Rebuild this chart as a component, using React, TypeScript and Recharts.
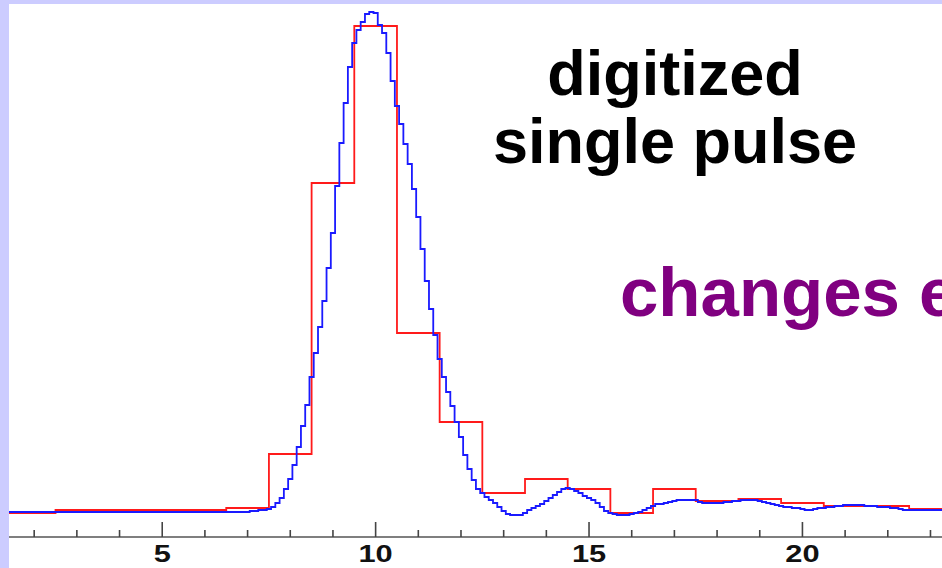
import React from 'react';
import { LineChart, Line, XAxis, YAxis } from 'recharts';

// Coarse (1-unit bins) red histogram: bin centers and heights
const RED_CENTERS = [1, 2, 3, 4, 5, 6, 7, 8, 9, 10, 11, 12, 13, 14, 15, 16, 17, 18, 19, 20, 21, 22, 23, 24];
const RED_VALUES = [24, 24, 27, 27, 27, 27, 29, 83, 354, 511, 204, 115, 44, 58, 48, 24, 48, 36, 38, 34, 31, 31, 28, 28];

// Fine (0.1-unit bins) blue histogram, first bin center and bin width
const BLUE_START = 1.3;
const BLUE_STEP = 0.1;
const BLUE_VALUES = [
  25, 25, 25, 25, 25, 25, 25, // 1.3-1.9
  25, 25, 25, 25, 25, 25, 25, 25, 25, 25, // 2.x
  25, 25, 25, 25, 25, 25, 25, 25, 25, 25, // 3.x
  25, 25, 25, 25, 25, 25, 25, 25, 25, 25, // 4.x
  25, 25, 25, 25, 25, 25, 25, 25, 25, 25, // 5.x
  25, 25, 25, 25, 25, 25, 25, 25, 25, 25, // 6.x
  25, 26, 26, 27, 27, 28, 30, 34, 39, 48, // 7.x
  58, 72, 90, 111, 132, 160, 184, 210, 236, 269, // 8.x
  304, 351, 394, 434, 470, 494, 507, 515, 523, 525, // 9.x
  524, 512, 504, 484, 456, 431, 413, 393, 373, 348, // 10.x
  320, 288, 256, 228, 202, 178, 160, 145, 131, 115, // 11.x
  100, 82, 68, 57, 48, 44, 40, 37, 34, 30, // 12.x
  26, 23, 22, 22, 22, 24, 27, 29, 31, 33, // 13.x
  36, 39, 42, 45, 48, 49, 48, 46, 44, 41, // 14.x
  39, 37, 34, 30, 26, 24, 23, 22, 22, 22, // 15.x
  23, 24, 25, 27, 29, 31, 33, 33, 34, 35, // 16.x
  36, 37, 37, 37, 37, 37, 35, 34, 34, 34, // 17.x
  34, 34, 35, 35, 36, 36, 37, 37, 37, 37, // 18.x
  36, 35, 34, 33, 32, 31, 30, 30, 29, 29, // 19.x
  28, 27, 27, 28, 29, 29, 30, 30, 31, 31, // 20.x
  32, 32, 32, 32, 32, 31, 31, 31, 30, 30, // 21.x
  30, 29, 29, 28, 27, 27, 27, 27, 27, 27, // 22.x
  27, 27, 27, 27, 27, // 23.0-23.4
];

const X_TICKS = [2, 3, 4, 5, 6, 7, 8, 9, 10, 11, 12, 13, 14, 15, 16, 17, 18, 19, 20, 21, 22, 23];
const X_LABELED = [5, 10, 15, 20];
const X_DOMAIN: [number, number] = [1.41, 23.27];
const Y_DOMAIN: [number, number] = [0, 533];

const TITLE_LINES = ['digitized', 'single pulse'];
const SIDE_TEXT = 'changes e';

const redData = RED_CENTERS.map((x, i) => ({ x, y: RED_VALUES[i] }));
const blueData = BLUE_VALUES.map((y, i) => ({ x: Math.round((BLUE_START + i * BLUE_STEP) * 10) / 10, y }));

const Tick = (props: any) => {
  const { x, y, payload } = props;
  const v = payload.value;
  const major = X_LABELED.includes(v);
  return (
    <g>
      <line x1={x} x2={x} y1={y} y2={y - (major ? 15 : 7)} stroke="#444" strokeWidth={1.6} />
      {major && (
        <text
          transform={`translate(${x},${y + 25}) scale(1.4,1.05)`}
          textAnchor="middle"
          fontFamily="'Liberation Sans', Arial, sans-serif"
          fontWeight="bold"
          fontSize={22}
          fill="#111"
        >
          {v}
        </text>
      )}
    </g>
  );
};

export default function App() {
  return (
    <div style={{ position: 'absolute', left: 0, top: 0, width: 942, height: 568, background: '#fff', overflow: 'hidden' }}>
      <div style={{ position: 'absolute', left: 0, top: 0, width: 9, height: 568, background: '#ccccff' }} />
      <div style={{ position: 'absolute', left: 0, top: 0, width: 942, height: 4, background: '#ccccff' }} />
      <div style={{ position: 'absolute', left: 9, top: 4 }}>
        <LineChart width={933} height={564} margin={{ top: 0, right: 0, bottom: 0, left: 0 }}>
          <XAxis
            type="number"
            dataKey="x"
            domain={X_DOMAIN}
            allowDataOverflow
            ticks={X_TICKS}
            interval={0}
            tick={<Tick />}
            tickLine={false}
            tickSize={0}
            tickMargin={0}
            height={31}
            axisLine={{ stroke: '#555', strokeWidth: 1.6 }}
          />
          <YAxis hide type="number" domain={Y_DOMAIN} allowDataOverflow />
          <Line data={redData} dataKey="y" type="step" stroke="#ff1a1a" strokeWidth={1.8} dot={false} isAnimationActive={false} />
          <Line data={blueData} dataKey="y" type="step" stroke="#1a1aff" strokeWidth={1.8} dot={false} isAnimationActive={false} />
        </LineChart>
      </div>
      <svg style={{ position: 'absolute', left: 0, top: 0 }} width={942} height={568}>
        <text x={675} y={95} textAnchor="middle" fontFamily="'Liberation Sans', Arial, sans-serif" fontWeight="bold" fontSize={63} fill="#000">
          {TITLE_LINES[0]}
        </text>
        <text x={675} y={163} textAnchor="middle" fontFamily="'Liberation Sans', Arial, sans-serif" fontWeight="bold" fontSize={63} fill="#000">
          {TITLE_LINES[1]}
        </text>
        <text x={620} y={316} fontFamily="'Liberation Sans', Arial, sans-serif" fontWeight="bold" fontSize={69} fill="#800080">
          {SIDE_TEXT}
        </text>
      </svg>
    </div>
  );
}
